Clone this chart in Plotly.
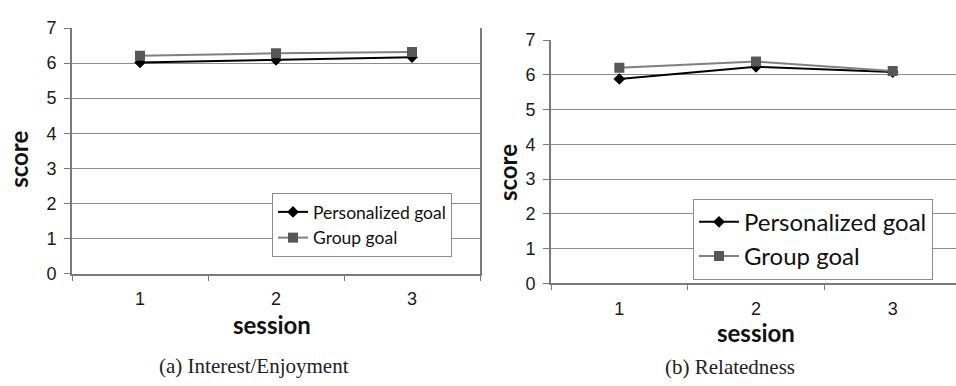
import plotly.graph_objects as go

W, H = 956, 386

# Session categories and mean scores per goal condition
sessions = ["1", "2", "3"]
interest_personal = [6.02, 6.09, 6.17]
interest_group = [6.21, 6.28, 6.32]
related_personal = [5.88, 6.23, 6.08]
related_group = [6.20, 6.38, 6.11]
y_ticks = [0, 1, 2, 3, 4, 5, 6, 7]
series_names = ["Personalized goal", "Group goal"]
captions = ["(a) Interest/Enjoyment", "(b) Relatedness"]


def px_x(v):
    return v / W


def px_y(v):
    return 1 - v / H


PERS_COLOR = "#000000"
GROUP_LINE = "#808080"
GROUP_MARK = "#575757"
GRID = "#8c8c8c"
AXIS = "#7a7a7a"

fig = go.Figure()

panels = [
    dict(xa="x", ya="y", pers=interest_personal, grp=interest_group, legend="legend"),
    dict(xa="x2", ya="y2", pers=related_personal, grp=related_group, legend="legend2"),
]

for p in panels:
    fig.add_trace(go.Scatter(
        x=sessions, y=p["pers"], name=series_names[0], mode="lines+markers",
        xaxis=p["xa"], yaxis=p["ya"], legend=p["legend"],
        line=dict(color=PERS_COLOR, width=2),
        marker=dict(symbol="diamond", size=9, color=PERS_COLOR),
    ))
    fig.add_trace(go.Scatter(
        x=sessions, y=p["grp"], name=series_names[1], mode="lines+markers",
        xaxis=p["xa"], yaxis=p["ya"], legend=p["legend"],
        line=dict(color=GROUP_LINE, width=2),
        marker=dict(symbol="square", size=10, color=GROUP_MARK),
    ))

tick_font = dict(family="Liberation Sans, Arial, sans-serif", size=18, color="#1a1a1a")

common_x = dict(
    type="category", tickson="boundaries", ticks="outside", ticklen=5,
    tickcolor=AXIS, tickwidth=1, showgrid=False, showline=True,
    linecolor=AXIS, linewidth=2, tickfont=tick_font, zeroline=False,
    ticklabelstandoff=8,
)
common_y = dict(
    range=[0, 7], tickvals=y_ticks, ticks="outside", ticklen=6,
    tickcolor=AXIS, tickwidth=1, showgrid=True, gridcolor=GRID, gridwidth=1,
    showline=True, linecolor=AXIS, linewidth=2, tickfont=tick_font,
    zeroline=False, ticklabelstandoff=4,
)

fig.update_layout(
    width=W, height=H,
    margin=dict(l=0, r=0, t=0, b=0),
    paper_bgcolor="white", plot_bgcolor="white",
    xaxis=dict(common_x, domain=[px_x(72), px_x(480)], range=[-0.5, 2.5], anchor="y"),
    yaxis=dict(common_y, domain=[px_y(278), px_y(19)], anchor="x", mirror=True),
    xaxis2=dict(common_x, domain=[px_x(551), 1.0], range=[-0.5, 2.463], anchor="y2"),
    yaxis2=dict(common_y, domain=[px_y(288.3), px_y(31.7)], anchor="x2"),
    legend=dict(
        x=px_x(272), y=px_y(193), xanchor="left", yanchor="top",
        bgcolor="white", bordercolor="#8c8c8c", borderwidth=1,
        font=dict(family="Lato, sans-serif", size=17.5, color="#111"),
        tracegroupgap=0, itemwidth=30,
    ),
    legend2=dict(
        x=px_x(693), y=px_y(199), xanchor="left", yanchor="top",
        bgcolor="white", bordercolor="#8c8c8c", borderwidth=1,
        font=dict(family="Lato, sans-serif", size=24, color="#111"),
        tracegroupgap=0, itemwidth=40,
    ),
    showlegend=True,
)

title_font = dict(family="Lato, sans-serif", size=24, color="#111", weight="bold")
cap_font = dict(family="Liberation Serif, serif", size=21, color="#222")

annos = [
    dict(text="score", x=px_x(19), y=px_y(158), textangle=-90, font=title_font),
    dict(text="session", x=px_x(272), y=px_y(332), font=title_font),
    dict(text=captions[0], x=px_x(254), y=px_y(375), font=cap_font),
    dict(text="score", x=px_x(507), y=px_y(172), textangle=-90, font=title_font),
    dict(text="session", x=px_x(756), y=px_y(340), font=title_font),
    dict(text=captions[1], x=px_x(730), y=px_y(377), font=cap_font),
]
for a in annos:
    fig.add_annotation(xref="paper", yref="paper", showarrow=False,
                       xanchor="center", yanchor="middle", **a)

fig.write_html("out.html")
